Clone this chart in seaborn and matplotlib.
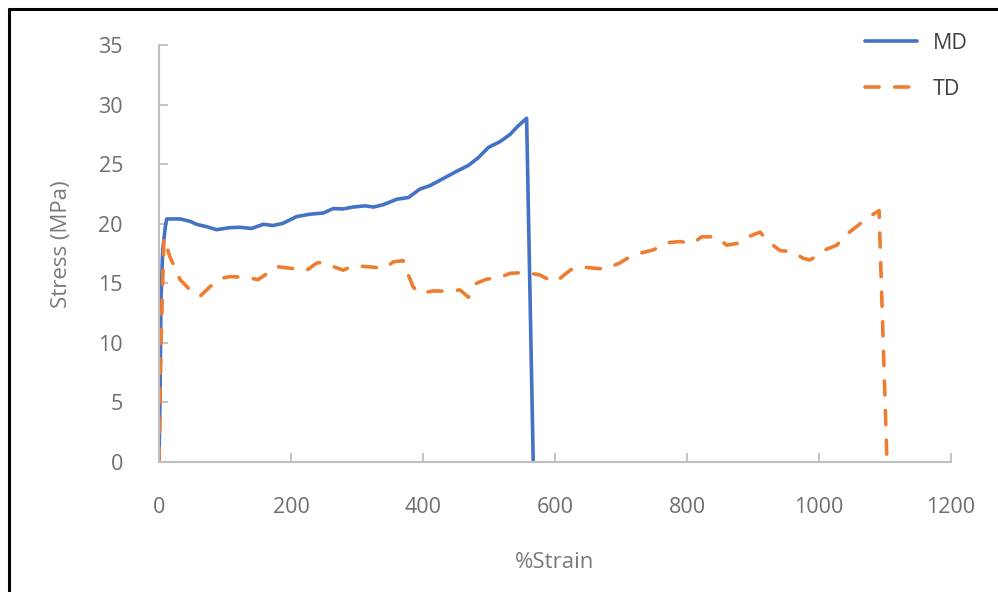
import matplotlib
matplotlib.use("Agg")
import matplotlib.pyplot as plt
from matplotlib.lines import Line2D
import seaborn as sns
import pandas as pd

# Stress-strain readings for the machine direction (MD) film sample
md_strain = [0, 1.5, 3, 5.6, 9.6, 11.6, 32, 47, 57, 72, 87, 107.6, 122.7, 140, 158, 173,
             188, 208.6, 229, 249, 264, 279, 294, 312, 325, 340, 360, 378, 395, 410.6,
             431, 451, 469, 484, 499, 517, 532, 544, 557, 567]
md_stress = [0, 5.2, 13.6, 17.8, 19.75, 20.4, 20.4, 20.2, 19.95, 19.75, 19.5, 19.67, 19.7,
             19.6, 19.95, 19.85, 20.04, 20.6, 20.8, 20.9, 21.27, 21.24, 21.4, 21.5, 21.4,
             21.6, 22.05, 22.2, 22.9, 23.2, 23.8, 24.4, 24.9, 25.55, 26.4, 26.9, 27.5,
             28.2, 28.85, 0]

# Stress-strain readings for the transverse direction (TD) film sample
td_strain = [0, 3, 7.6, 16.7, 32, 47, 62, 77, 92.4, 107.6, 133, 150, 168, 178, 193, 224,
             239, 249, 264, 279, 294, 315, 342, 355, 370, 375, 385, 395, 415.6, 436, 456,
             469, 481, 496, 517, 532, 557, 577, 587, 595, 605, 623, 635, 660.6, 676, 698,
             714, 734, 749, 769, 789, 809.5, 822, 845, 860, 878, 893, 910.6, 923, 941, 959,
             976, 986, 994, 1011.6, 1026.8, 1044, 1057, 1075, 1091, 1103]
td_stress = [0, 10, 18.8, 17.2, 15.3, 14.45, 13.9, 14.7, 15.4, 15.56, 15.5, 15.3, 15.98,
             16.4, 16.3, 16.1, 16.7, 16.77, 16.4, 16.1, 16.46, 16.4, 16.26, 16.8, 16.9,
             16.1, 14.7, 14.16, 14.36, 14.33, 14.44, 13.83, 15.0, 15.34, 15.5, 15.84, 15.9,
             15.7, 15.4, 15.6, 15.3, 16.1, 16.4, 16.26, 16.2, 16.7, 17.24, 17.6, 17.8,
             18.4, 18.5, 18.36, 18.9, 18.9, 18.2, 18.36, 18.9, 19.3, 18.5, 17.74, 17.66,
             17.1, 16.96, 17.2, 17.86, 18.2, 19.2, 19.76, 20.55, 21.1, 0]

x_ticks = [0, 200, 400, 600, 800, 1000, 1200]
y_ticks = [0, 5, 10, 15, 20, 25, 30, 35]

sns.set_theme(style="white")
plt.rcParams["font.family"] = ["Open Sans", "DejaVu Sans"]

TICK_COLOR = "#6E6E6E"
TITLE_COLOR = "#7A7A7A"
AXIS_COLOR = "#BFBFBF"

fig = plt.figure(figsize=(9.98, 5.92), dpi=100)
ax = fig.add_axes([159 / 998, 1 - 462 / 592, (951 - 159) / 998, (462 - 45) / 592])

md = pd.DataFrame({"strain": md_strain, "stress": md_stress})
td = pd.DataFrame({"strain": td_strain, "stress": td_stress})

sns.lineplot(data=md, x="strain", y="stress", ax=ax, color="#4472C4", linewidth=2.6,
             sort=False, estimator=None, label="MD", solid_capstyle="round",
             solid_joinstyle="round")
sns.lineplot(data=td, x="strain", y="stress", ax=ax, color="#ED7D31", linewidth=2.6,
             sort=False, estimator=None, label="TD", dashes=False)
ax.lines[1].set_dashes((3.9, 4.3))
ax.lines[1].set_dash_capstyle("round")
ax.lines[1].set_dash_joinstyle("round")

ax.set_xlim(0, 1200)
ax.set_ylim(0, 35)
ax.set_xticks(x_ticks)
ax.set_yticks(y_ticks)
ax.set_xticklabels([str(v) for v in x_ticks])
ax.set_yticklabels([str(v) for v in y_ticks])

for side in ("top", "right"):
    ax.spines[side].set_visible(False)
for side in ("left", "bottom"):
    ax.spines[side].set_color(AXIS_COLOR)
    ax.spines[side].set_linewidth(1.5)

ax.tick_params(axis="both", direction="in", length=6.5, width=1.3, color=AXIS_COLOR,
               labelcolor=TICK_COLOR, labelsize=15.5, bottom=True, left=True)
ax.tick_params(axis="x", pad=25)
ax.tick_params(axis="y", pad=26)

ax.set_xlabel("%Strain", fontsize=16, color=TITLE_COLOR)
ax.set_ylabel("Stress (MPa)", fontsize=16, color=TITLE_COLOR)
ax.xaxis.label.set_verticalalignment("center")
ax.yaxis.label.set_verticalalignment("center")
ax.xaxis.set_label_coords(0.5, -(563 - 462) / 417)
ax.yaxis.set_label_coords((62 - 159) / 792, (462 - 244) / 417)

leg = ax.legend(loc="upper left", bbox_to_anchor=(865 / 998, 1 - 33 / 592),
                bbox_transform=fig.transFigure, frameon=False, borderpad=0,
                borderaxespad=0, handlelength=2.4, handletextpad=0.75,
                labelspacing=1.15, fontsize=15.5)
for t in leg.get_texts():
    t.set_color("#404040")

# Frame lines along the left and top edges of the image
fig.add_artist(Line2D([9 / 998, 9 / 998], [0, 1 - 9 / 592], transform=fig.transFigure,
                      color="black", linewidth=2.2))
fig.add_artist(Line2D([9 / 998, 1], [1 - 9 / 592, 1 - 9 / 592], transform=fig.transFigure,
                      color="black", linewidth=2.2))

fig.savefig("out.png", dpi=100)
